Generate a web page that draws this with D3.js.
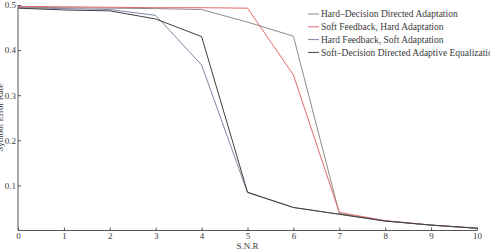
<!DOCTYPE html>
<html>
<head>
<meta charset="utf-8">
<script src="https://cdn.jsdelivr.net/npm/d3@7"></script>
<style>
  body { margin: 0; background: #fff; }
  svg text { font-family: "Liberation Serif", "DejaVu Serif", serif; fill: #3a3a3a; }
  .axis path, .axis line { stroke: #555; }
</style>
</head>
<body>
<svg id="chart"></svg>
<script>
/* DATA */
var snr = [0, 1, 2, 3, 4, 5, 6, 7, 8, 9, 10];
var hardDecision = [0.495, 0.494, 0.493, 0.492, 0.490, 0.462, 0.431, 0.038, 0.021, 0.012, 0.005];
var softFbHardAd = [0.497, 0.496, 0.495, 0.494, 0.494, 0.493, 0.345, 0.040, 0.022, 0.012, 0.005];
var hardFbSoftAd = [0.494, 0.492, 0.490, 0.477, 0.367, 0.084, 0.051, 0.036, 0.021, 0.012, 0.005];
var softDecision = [0.493, 0.489, 0.487, 0.469, 0.430, 0.085, 0.051, 0.036, 0.021, 0.012, 0.005];
var seriesNames = ["Hard\u2013Decision Directed Adaptation", "Soft Feedback, Hard Adaptation",
                   "Hard Feedback, Soft Adaptation", "Soft\u2013Decision Directed Adaptive Equalization"];
var xTicks = [0, 1, 2, 3, 4, 5, 6, 7, 8, 9, 10];
var yTicks = [0.1, 0.2, 0.3, 0.4, 0.5];

/* SETUP */
var width = 490;
var height = 251;
var colors = ["#8c8c8c", "#e26a6a", "#8585a6", "#404040"];
var series = [hardDecision, softFbHardAd, hardFbSoftAd, softDecision];

var x = d3.scaleLinear().domain([0, 10]).range([18, 477]);
var y = d3.scaleLinear().domain([0, 0.5]).range([230.5, 5]);

var svg = d3.select("svg#chart")
  .attr("width", width)
  .attr("height", height);

/* AXES */
var xAxis = d3.axisTop(x)
  .tickValues(xTicks)
  .tickFormat(d3.format("d"))
  .tickSize(3)
  .tickSizeOuter(0);

var gx = svg.append("g")
  .attr("class", "axis")
  .attr("transform", translate(0, y(0)))
  .call(xAxis);
gx.select(".domain").attr("d", "M" + x(0) + ",0H" + x(10));
gx.selectAll("text")
  .attr("y", 8.5)
  .attr("dy", "0")
  .style("font-size", "9px");

var yAxis = d3.axisRight(y)
  .tickValues(yTicks)
  .tickFormat(d3.format(".1f"))
  .tickSize(3)
  .tickSizeOuter(0);

var gy = svg.append("g")
  .attr("class", "axis")
  .attr("transform", translate(x(0), 0))
  .call(yAxis);
gy.select(".domain").attr("d", "M0," + y(0) + "V" + y(0.5));
gy.selectAll("text")
  .attr("x", -2)
  .attr("text-anchor", "end")
  .style("font-size", "9px");

svg.append("text")
  .attr("x", x(5))
  .attr("y", 248.5)
  .attr("text-anchor", "middle")
  .style("font-size", "9px")
  .text("S.N.R");

svg.append("text")
  .attr("transform", "translate(3," + y(0.25) + ") rotate(-90)")
  .attr("text-anchor", "middle")
  .style("font-size", "9px")
  .text("Symbol Error Rate");

/* LINES */
var line = d3.line()
  .x((d, i) => x(snr[i]))
  .y(d => y(d));

svg.append("g")
  .selectAll("path")
  .data(series)
  .enter()
  .append("path")
  .attr("d", line)
  .attr("fill", "none")
  .attr("stroke", (d, i) => colors[i])
  .attr("stroke-width", 1);

/* LEGEND */
var legend = svg.append("g").attr("transform", translate(308, 14));
var items = legend.selectAll("g")
  .data(seriesNames)
  .enter()
  .append("g")
  .attr("transform", (d, i) => translate(0, i * 12.8));

items.append("line")
  .attr("x1", 0)
  .attr("x2", 11)
  .attr("stroke", (d, i) => colors[i]);

items.append("text")
  .attr("x", 13)
  .attr("dy", "0.33em")
  .style("font-size", "9.5px")
  .text(d => d);

/* HELPER FUNCTION */
function translate(x, y) {
  return 'translate(' + String(x) + ',' + String(y) + ')';
}
</script>
</body>
</html>
